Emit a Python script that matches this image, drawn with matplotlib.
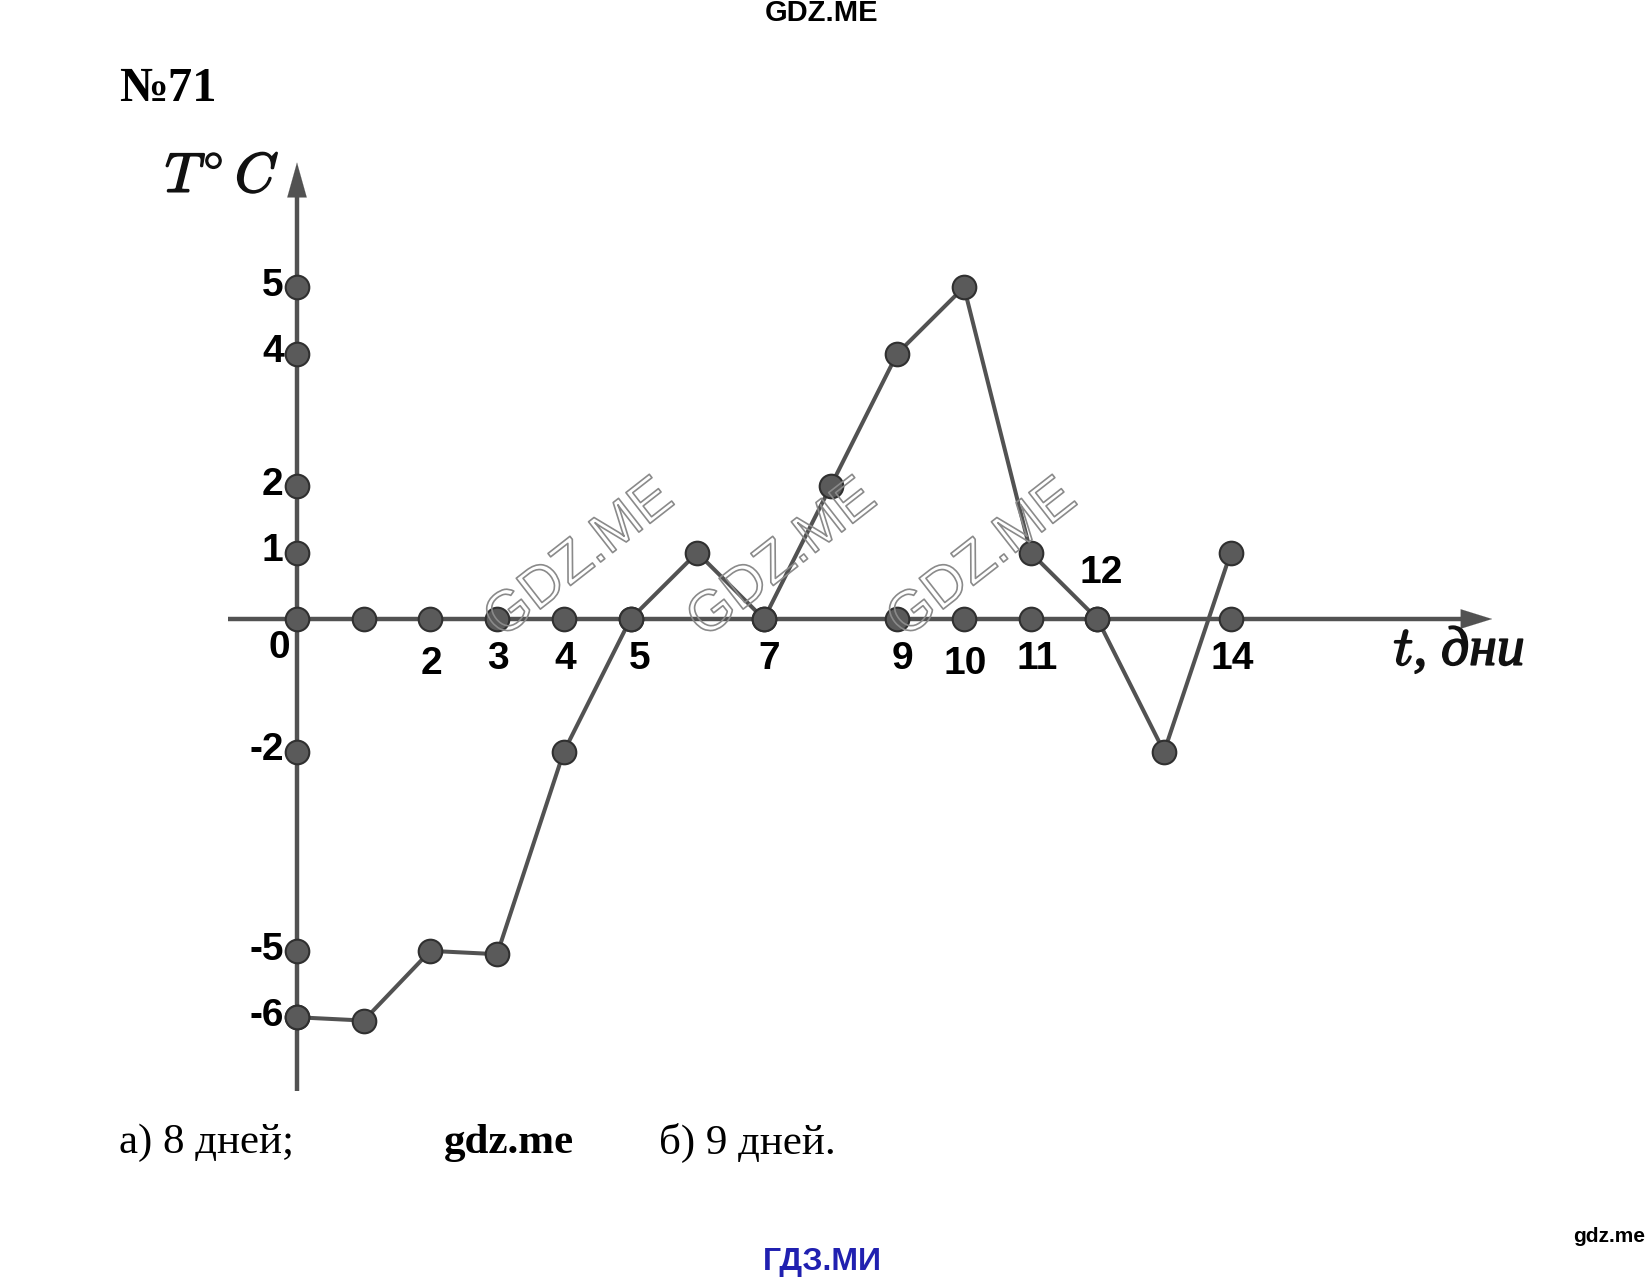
import matplotlib
matplotlib.use('Agg')
import matplotlib.pyplot as plt
from matplotlib import patheffects

plt.rcParams['mathtext.fontset'] = 'cm'

# temperature over 14 days
days = [0, 1, 2, 3, 4, 5, 6, 7, 8, 9, 10, 11, 12, 13, 14]
temps = [-6, -6.05, -5, -5.05, -2, 0, 1, 0, 2, 4, 5, 1, 0, -2, 1]

# marked points on the axes
y_marks = [5, 4, 2, 1, 0, -2, -5, -6]
y_labels = ['5', '4', '2', '1', '', '-2', '-5', '-6']
x_marks = [1, 2, 3, 4, 5, 7, 9, 10, 11, 12, 14]
x_labels = ['', '2', '3', '4', '5', '7', '9', '10', '11', '12', '14']

W, H = 1645, 1279
fig = plt.figure(figsize=(W / 100, H / 100), dpi=100)
# axes placed so that 1 unit ~ 66.7 px horizontally, 66.4 px vertically
ax = fig.add_axes([163.6 / W, 129 / H, (1631 - 163.6) / W, (1191 - 129) / H])
ax.set_xlim(-2, 20)
ax.set_ylim(-8, 8)
ax.axis('off')

grey = '#525252'
mk = dict(marker='o', ms=17, mfc='#5a5a5a', mec='#303030', mew=1.5, ls='none', zorder=5)

# axes with arrows
ax.plot([-1.03, 17.5], [0, 0], color=grey, lw=3.2, zorder=1, solid_capstyle='butt')
ax.annotate('', xy=(17.96, 0), xytext=(17.0, 0),
            arrowprops=dict(arrowstyle='-|>,head_length=0.45,head_width=0.14',
                            mutation_scale=50, color=grey, lw=0.1))
ax.plot([0, 0], [-7.11, 6.5], color=grey, lw=3.2, zorder=1, solid_capstyle='butt')
ax.annotate('', xy=(0, 6.92), xytext=(0, 6.0),
            arrowprops=dict(arrowstyle='-|>,head_length=0.5,head_width=0.14',
                            mutation_scale=50, color=grey, lw=0.1))

# temperature line
ax.plot(days, temps, color=grey, lw=2.9, zorder=3)
ax.plot(days, temps, **mk)
ax.plot([0] * len(y_marks), y_marks, **mk)
ax.plot(x_marks, [0] * len(x_marks), **mk)

lab = dict(family=['Liberation Sans', 'DejaVu Sans'], fontsize=28, weight='bold',
           color='black', zorder=6)
for v, s in zip(y_marks, y_labels):
    if s:
        ax.text(-0.2, v + 0.02, s, ha='right', va='center', **lab)
ax.text(-0.27, -0.43, '0', ha='center', va='center', **lab)
for v, s in zip(x_marks, x_labels):
    if not s:
        continue
    if s == '12':
        ax.text(v + 0.06, 0.7, s, ha='center', va='center', **lab)
    else:
        dx = {'5': 0.14, '7': 0.08, '11': 0.09, '9': 0.07}.get(s, 0.02)
        dy = {'2': -0.68, '10': -0.68}.get(s, -0.6)
        ax.text(v + dx, dy, s, ha='center', va='center', **lab)

# axis titles
thick = [patheffects.withStroke(linewidth=1.2, foreground='#111111')]
ax.text(-1.12, 6.66, r'$T^{\circ}\,C$', ha='center', va='center', fontsize=40,
        color='#111111', path_effects=thick)
ax.text(17.42, -0.48, r'$t$, дни', ha='center', va='center', fontsize=40,
        family='Liberation Serif', style='italic', color='#111111', path_effects=thick)

# watermarks
for cx in [4.24, 7.28, 10.28]:
    ax.text(cx, 0.9, 'GDZ.ME', ha='center', va='center', rotation=38, fontsize=41,
            family='Liberation Sans', color='none', zorder=7,
            path_effects=[patheffects.Stroke(linewidth=1.2, foreground='#8a8a8a')])

# page texts
def ftext(x, y, s, **kw):
    fig.text(x / W, 1 - y / H, s, ha=kw.pop('ha', 'left'), va=kw.pop('va', 'center'), **kw)

ftext(822, 13, 'GDZ.ME', ha='center', fontsize=21, weight='bold',
      family=['Liberation Sans Narrow', 'Liberation Sans'])
ftext(119, 89, '№71', fontsize=35, weight='bold', family='Liberation Serif')
ftext(119, 1143, 'а) 8 дней;', fontsize=31, family='Liberation Serif')
ftext(444, 1143, 'gdz.me', fontsize=31, weight='bold', family='Liberation Serif')
ftext(659, 1143, 'б) 9 дней.', fontsize=31, family='Liberation Serif')
ftext(1645, 1236, 'gdz.me', ha='right', fontsize=15, weight='bold',
      family=['Liberation Sans Narrow', 'Liberation Sans'])
ftext(822, 1262, 'ГДЗ.МИ', ha='center', fontsize=23, weight='bold', color='#2020b0',
      family=['Liberation Sans Narrow', 'Liberation Sans'])

fig.savefig('out.png', dpi=100)
